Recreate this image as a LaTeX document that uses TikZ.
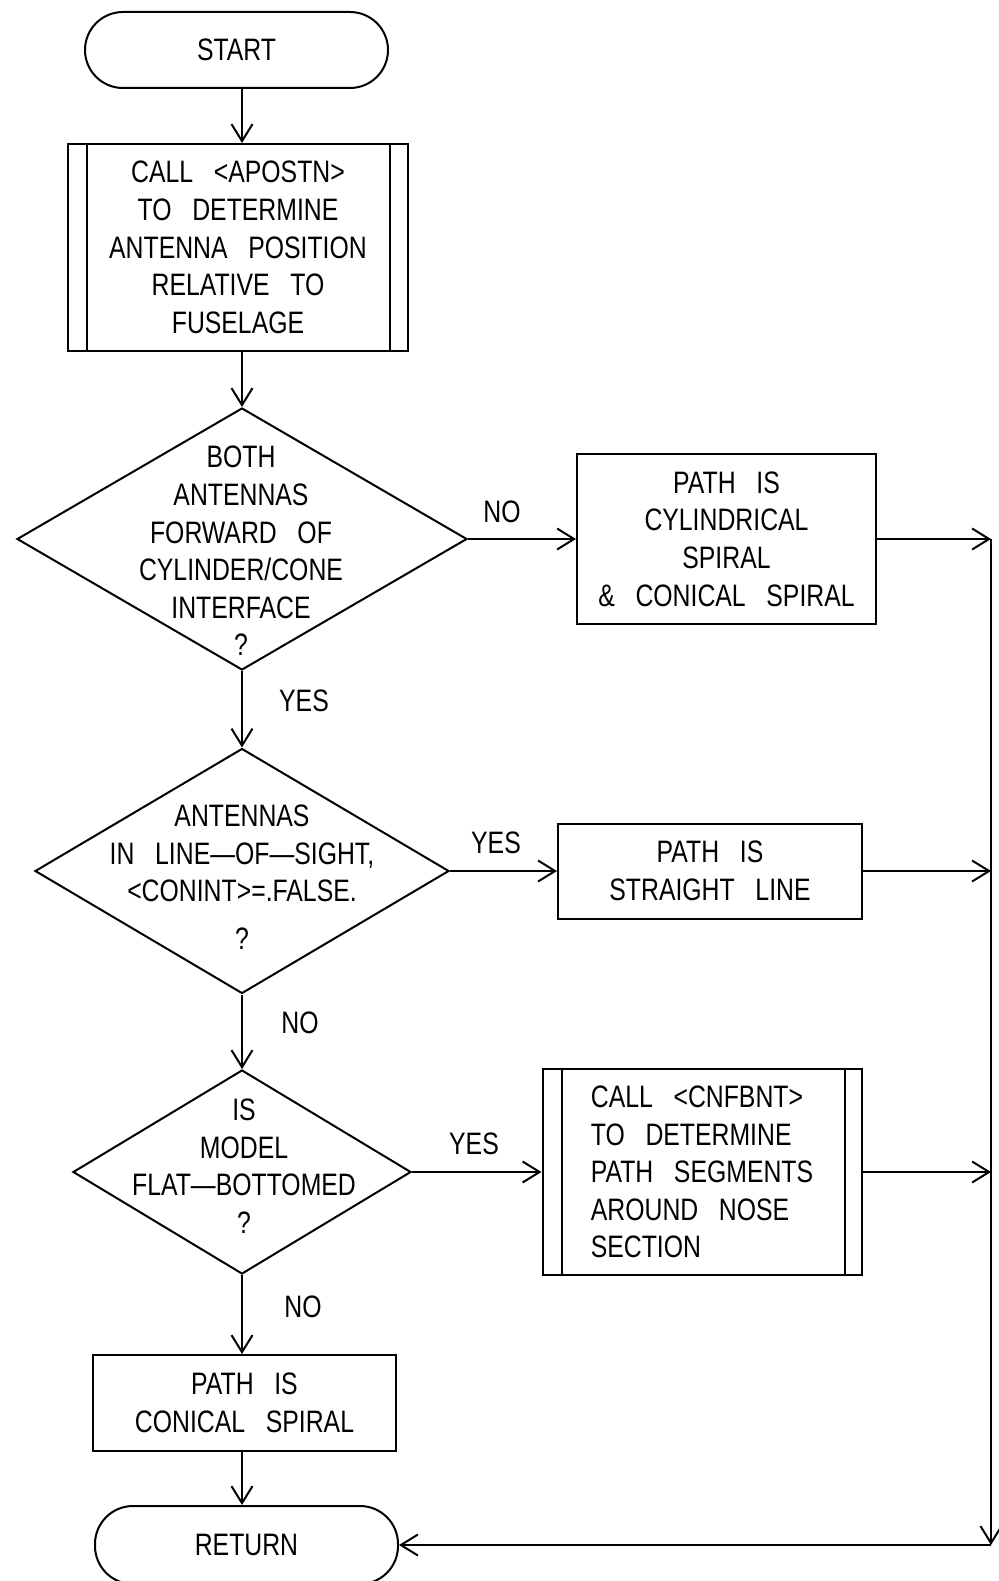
\documentclass[tikz,border=0pt]{standalone}
\usepackage{fontspec}
\setmainfont[FakeStretch=0.8,WordSpace=3]{Liberation Sans}
\usetikzlibrary{arrows.meta,shapes.geometric}

\begin{document}
\begin{tikzpicture}[x=1pt,y=-1pt,
  line width=2pt,
  every node/.style={font=\fontsize{31}{37.6}\selectfont, inner sep=0pt},
  box/.style={draw, rectangle, align=center},
  term/.style={draw, rectangle, rounded corners=38pt, align=center,
               minimum height=76pt, minimum width=303pt},
  dia/.style={draw, diamond, inner sep=0pt},
  txt/.style={align=center},
  arr/.style={-{Straight Barb[length=17pt,width=21pt]}},
]
\useasboundingbox (0,0) rectangle (998,1581);

% column and return rail
\coordinate (col) at (242,0);
\coordinate (rail) at (991,0);

% terminals
\node[term] (start) at (236.5,50) {START};
\node[term, minimum height=78pt] (ret) at (246.5,1545) {RETURN};

% predefined process: antenna position
\node[box, minimum width=340pt, minimum height=207pt] (apostn) at (238,247.5)
  {CALL <APOSTN>\\TO DETERMINE\\ANTENNA POSITION\\RELATIVE TO\\FUSELAGE};
\draw ([xshift=20pt]apostn.north west) -- ([xshift=20pt]apostn.south west);
\draw ([xshift=-19pt]apostn.north east) -- ([xshift=-19pt]apostn.south east);

% decision 1
\node[dia, minimum width=450pt, minimum height=262pt] (d1) at (242,539) {};
\node[txt] (d1t) at (241,551)
  {BOTH\\ANTENNAS\\FORWARD OF\\CYLINDER/CONE\\INTERFACE\\?};

\node[box, minimum width=299pt, minimum height=170pt] (cyl) at (726.5,539)
  {PATH IS\\CYLINDRICAL\\SPIRAL\\\& CONICAL SPIRAL};

% decision 2
\node[dia, minimum width=414pt, minimum height=245pt] (d2) at (242,871) {};
\node[txt] (d2t) at (242,877)
  {ANTENNAS\\IN LINE—OF—SIGHT,\\<CONINT>=.FALSE.\\[10pt]?};

\node[box, minimum width=304pt, minimum height=95pt] (sl) at (710,871)
  {PATH IS\\STRAIGHT LINE};

% decision 3
\node[dia, minimum width=338pt, minimum height=204pt] (d3) at (242,1172) {};
\node[txt] (d3t) at (244,1166)
  {IS\\MODEL\\FLAT—BOTTOMED\\?};

% predefined process: nose section
\node[draw, rectangle, align=left, minimum width=319pt, minimum height=206pt] (cnf) at (702,1172)
  {CALL <CNFBNT>\\TO DETERMINE\\PATH SEGMENTS\\AROUND NOSE\\SECTION};
\draw ([xshift=20pt]cnf.north west) -- ([xshift=20pt]cnf.south west);
\draw ([xshift=-18pt]cnf.north east) -- ([xshift=-18pt]cnf.south east);

\node[box, minimum width=303pt, minimum height=96pt] (con) at (244.5,1403)
  {PATH IS\\CONICAL SPIRAL};

% main column
\draw[arr] (start.south -| col) -- (apostn.north -| col);
\draw[arr] (apostn.south -| col) -- (d1.north);
\draw[arr] (d1.south) -- (d2.north);
\draw[arr] (d2.south) -- (d3.north);
\draw[arr] (d3.south) -- (con.north -| d3.south);
\draw[arr] (con.south -| col) -- (ret.north -| col);

% branches to the right
\draw[arr] (d1.east) -- (cyl.west |- d1.east);
\draw[arr] (d2.east) -- (sl.west |- d2.east);
\draw[arr] (d3.east) -- (cnf.west |- d3.east);

% return rail
\coordinate (j1) at (rail |- cyl.east);
\coordinate (j2) at (rail |- sl.east);
\coordinate (j3) at (rail |- cnf.east);
\coordinate (jc) at (rail |- ret.east);
\draw[arr] (cyl.east) -- (j1);
\draw[arr] (sl.east) -- (j2);
\draw[arr] (cnf.east) -- (j3);
\draw[arr] (j1) -- (jc);
\draw[arr] (jc) -- (ret.east);

% branch labels
\node (no1) at (502,512) {NO};
\node (yes1) at (304,701) {YES};
\node (yes2) at (496,843) {YES};
\node (no2) at (300,1023) {NO};
\node (yes3) at (474,1144) {YES};
\node (no3) at (303,1307) {NO};
\end{tikzpicture}
\end{document}
